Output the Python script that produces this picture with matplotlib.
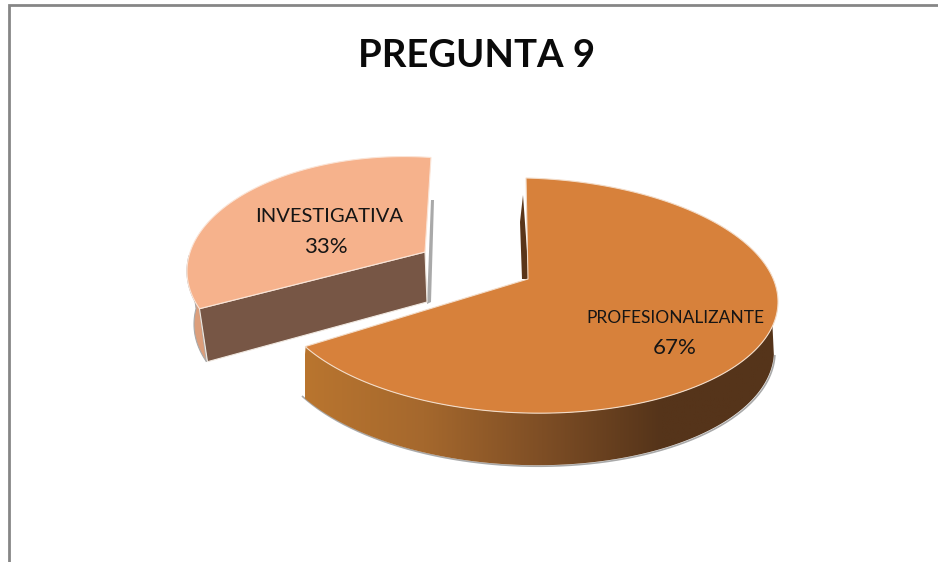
import numpy as np
import matplotlib
matplotlib.use('Agg')
import matplotlib.pyplot as plt
from matplotlib.colors import LinearSegmentedColormap
from matplotlib.patches import Polygon

plt.rcParams['font.family'] = ['Lato', 'DejaVu Sans']

# ============================================================
# datos
# ============================================================
title = 'PREGUNTA 9'
labels = ['PROFESIONALIZANTE', 'INVESTIGATIVA']
values = [67, 33]

top_colors = ['#D7813B', '#F6B28C']
front_wall = '#775645'
outer_wall = '#DC9E7B'
shadow = '#A9A9A9'
side_grad = ['#B9752F', '#A5682D', '#7E4E25', '#55341A', '#55341A']


def arc(deg_from, deg_to, ex, ey, a, b, tilt=0.0, n=200):
    # elipse de la cara superior, con un poco de inclinacion por la perspectiva
    t = np.radians(np.linspace(deg_from, deg_to, n))
    x = ex + a * np.cos(t)
    y = ey - b * np.sin(t) + tilt * a * np.cos(t)
    return np.column_stack([x, y])


fig = plt.figure(figsize=(9.38, 5.62), dpi=100)
ax = fig.add_axes([0, 0, 1, 1])
ax.set_xlim(0, 938)
ax.set_ylim(562, 0)
ax.axis('off')

# marco
ax.plot([9, 9, 938], [562, 5, 5], color='#868686', lw=2, solid_joinstyle='miter')

ax.text(477, 56, title, fontsize=27.5, fontweight='bold', ha='center', va='center', color='#0A0A0A')

sweep = [v / sum(values) * 360 for v in values]

# ============================================================
# porcion pequena (separada)
# ============================================================
start2 = 81
top2 = arc(start2, start2 + sweep[1], 398, 268, 211, 111.4, tilt=-0.015)
apex2 = (425, 252)
corner2 = top2[-1]

# sombra derecha
ax.add_patch(Polygon([(431, 200), (434, 200), (431, 302), (427, 304)], fc=shadow, ec='none', zorder=1))
# pared exterior izquierda
part = arc(172, start2 + sweep[1], 398, 268, 211, 111.4, tilt=-0.015, n=40)
ax.add_patch(Polygon(np.vstack([part, (part + [7, 53])[::-1]]), fc=outer_wall, ec=shadow, lw=0.8, zorder=2))
# pared frontal
ax.add_patch(Polygon([corner2, apex2, (427, 302), corner2 + [8, 53]], fc=front_wall, ec='#F0E8E0', lw=0.8, zorder=3))
# cara superior
ax.add_patch(Polygon(np.vstack([top2, [apex2]]), fc=top_colors[1], ec='#FBE4D6', lw=0.8, zorder=4))

# ============================================================
# porcion grande
# ============================================================
start1 = 90
top1 = arc(start1, start1 - sweep[0], 526, 295.5, 252, 117.5, tilt=0.025)
apex1 = (528, 279)

# pared interior
ax.add_patch(Polygon([(520, 222), (523, 195), (529, 279), (522, 279)], fc='#5A3519', ec='none', zorder=5))

# pared lateral con degradado
upper = arc(209, 360 - 12, 526, 295.5, 252, 117.5, tilt=0.025)
lower = arc(209, 360 - 2, 522, 343, 252, 122, tilt=0.03)
wall_pts = np.vstack([upper, lower[::-1]])
cmap = LinearSegmentedColormap.from_list('lado', side_grad)
im = ax.imshow(np.linspace(0, 1, 256)[None, :], extent=(305, 780, 480, 320), cmap=cmap,
               aspect='auto', zorder=6)
clip = Polygon(wall_pts, transform=ax.transData, fc='none', ec='none')
ax.add_patch(clip)
im.set_clip_path(clip)
ax.plot(lower[:, 0] + 1, lower[:, 1] + 1, color=shadow, lw=1.2, zorder=5)

# cara superior
ax.add_patch(Polygon(np.vstack([top1, [apex1]]), fc=top_colors[0], ec='#F3DCC8', lw=0.8, zorder=7))

ax.set_xlim(0, 938)
ax.set_ylim(562, 0)

# ============================================================
# etiquetas
# ============================================================
ax.text(675, 318, labels[0], fontsize=12.5, ha='center', va='center', color='#151515', zorder=8)
ax.text(675, 348, f'{values[0]}%', fontsize=16, ha='center', va='center', color='#151515', zorder=8)
ax.text(329, 216, labels[1], fontsize=14.5, ha='center', va='center', color='#151515', zorder=8)
ax.text(326, 247, f'{values[1]}%', fontsize=16, ha='center', va='center', color='#151515', zorder=8)

fig.savefig('out.png', dpi=100)
